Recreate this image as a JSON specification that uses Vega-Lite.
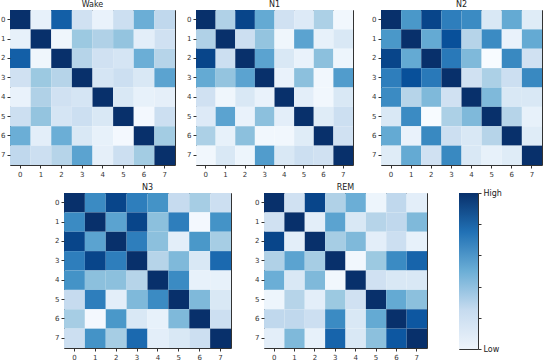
{
"$schema": "https://vega.github.io/schema/vega-lite/v6.json",
"padding": {"left": 0, "top": 0, "right": 0, "bottom": 0},
"background": "white",
"spacing": 5,
"config": {
  "font": "DejaVu Sans",
  "view": {"stroke": "#333", "strokeWidth": 1},
  "axis": {"grid": false, "domain": false, "tickSize": 3, "tickColor": "#333", "labelFontSize": 7, "labelColor": "#333", "labelPadding": 2, "labelAngle": 0},
  "title": {"fontSize": 8, "fontWeight": "normal", "offset": 1, "color": "#222"}
},
"datasets": {
"cells": [
{"stage":"Wake","i":0,"j":0,"v":1},{"stage":"Wake","i":0,"j":1,"v":0.08},{"stage":"Wake","i":0,"j":2,"v":0.82},{"stage":"Wake","i":0,"j":3,"v":0.2},{"stage":"Wake","i":0,"j":4,"v":0.07},{"stage":"Wake","i":0,"j":5,"v":0.22},{"stage":"Wake","i":0,"j":6,"v":0.5},{"stage":"Wake","i":0,"j":7,"v":0.27},
{"stage":"Wake","i":1,"j":0,"v":0.08},{"stage":"Wake","i":1,"j":1,"v":1},{"stage":"Wake","i":1,"j":2,"v":0.04},{"stage":"Wake","i":1,"j":3,"v":0.38},{"stage":"Wake","i":1,"j":4,"v":0.32},{"stage":"Wake","i":1,"j":5,"v":0.4},{"stage":"Wake","i":1,"j":6,"v":0.1},{"stage":"Wake","i":1,"j":7,"v":0.2},
{"stage":"Wake","i":2,"j":0,"v":0.82},{"stage":"Wake","i":2,"j":1,"v":0.04},{"stage":"Wake","i":2,"j":2,"v":1},{"stage":"Wake","i":2,"j":3,"v":0.3},{"stage":"Wake","i":2,"j":4,"v":0.2},{"stage":"Wake","i":2,"j":5,"v":0.17},{"stage":"Wake","i":2,"j":6,"v":0.5},{"stage":"Wake","i":2,"j":7,"v":0.3},
{"stage":"Wake","i":3,"j":0,"v":0.2},{"stage":"Wake","i":3,"j":1,"v":0.38},{"stage":"Wake","i":3,"j":2,"v":0.3},{"stage":"Wake","i":3,"j":3,"v":1},{"stage":"Wake","i":3,"j":4,"v":0.17},{"stage":"Wake","i":3,"j":5,"v":0.22},{"stage":"Wake","i":3,"j":6,"v":0.15},{"stage":"Wake","i":3,"j":7,"v":0.55},
{"stage":"Wake","i":4,"j":0,"v":0.07},{"stage":"Wake","i":4,"j":1,"v":0.32},{"stage":"Wake","i":4,"j":2,"v":0.2},{"stage":"Wake","i":4,"j":3,"v":0.17},{"stage":"Wake","i":4,"j":4,"v":1},{"stage":"Wake","i":4,"j":5,"v":0.15},{"stage":"Wake","i":4,"j":6,"v":0.08},{"stage":"Wake","i":4,"j":7,"v":0.09},
{"stage":"Wake","i":5,"j":0,"v":0.22},{"stage":"Wake","i":5,"j":1,"v":0.4},{"stage":"Wake","i":5,"j":2,"v":0.17},{"stage":"Wake","i":5,"j":3,"v":0.22},{"stage":"Wake","i":5,"j":4,"v":0.15},{"stage":"Wake","i":5,"j":5,"v":1},{"stage":"Wake","i":5,"j":6,"v":0.02},{"stage":"Wake","i":5,"j":7,"v":0.22},
{"stage":"Wake","i":6,"j":0,"v":0.5},{"stage":"Wake","i":6,"j":1,"v":0.1},{"stage":"Wake","i":6,"j":2,"v":0.5},{"stage":"Wake","i":6,"j":3,"v":0.15},{"stage":"Wake","i":6,"j":4,"v":0.08},{"stage":"Wake","i":6,"j":5,"v":0.02},{"stage":"Wake","i":6,"j":6,"v":1},{"stage":"Wake","i":6,"j":7,"v":0.36},
{"stage":"Wake","i":7,"j":0,"v":0.27},{"stage":"Wake","i":7,"j":1,"v":0.22},{"stage":"Wake","i":7,"j":2,"v":0.3},{"stage":"Wake","i":7,"j":3,"v":0.55},{"stage":"Wake","i":7,"j":4,"v":0.09},{"stage":"Wake","i":7,"j":5,"v":0.22},{"stage":"Wake","i":7,"j":6,"v":0.36},{"stage":"Wake","i":7,"j":7,"v":1},

{"stage":"N1","i":0,"j":0,"v":1},{"stage":"N1","i":0,"j":1,"v":0.32},{"stage":"N1","i":0,"j":2,"v":0.92},{"stage":"N1","i":0,"j":3,"v":0.52},{"stage":"N1","i":0,"j":4,"v":0.2},{"stage":"N1","i":0,"j":5,"v":0.13},{"stage":"N1","i":0,"j":6,"v":0.33},{"stage":"N1","i":0,"j":7,"v":0.03},
{"stage":"N1","i":1,"j":0,"v":0.32},{"stage":"N1","i":1,"j":1,"v":1},{"stage":"N1","i":1,"j":2,"v":0.22},{"stage":"N1","i":1,"j":3,"v":0.4},{"stage":"N1","i":1,"j":4,"v":0.04},{"stage":"N1","i":1,"j":5,"v":0.55},{"stage":"N1","i":1,"j":6,"v":0.08},{"stage":"N1","i":1,"j":7,"v":0.15},
{"stage":"N1","i":2,"j":0,"v":0.92},{"stage":"N1","i":2,"j":1,"v":0.22},{"stage":"N1","i":2,"j":2,"v":1},{"stage":"N1","i":2,"j":3,"v":0.55},{"stage":"N1","i":2,"j":4,"v":0.15},{"stage":"N1","i":2,"j":5,"v":0.07},{"stage":"N1","i":2,"j":6,"v":0.42},{"stage":"N1","i":2,"j":7,"v":0.05},
{"stage":"N1","i":3,"j":0,"v":0.52},{"stage":"N1","i":3,"j":1,"v":0.4},{"stage":"N1","i":3,"j":2,"v":0.55},{"stage":"N1","i":3,"j":3,"v":1},{"stage":"N1","i":3,"j":4,"v":0.07},{"stage":"N1","i":3,"j":5,"v":0.42},{"stage":"N1","i":3,"j":6,"v":0.03},{"stage":"N1","i":3,"j":7,"v":0.58},
{"stage":"N1","i":4,"j":0,"v":0.2},{"stage":"N1","i":4,"j":1,"v":0.04},{"stage":"N1","i":4,"j":2,"v":0.15},{"stage":"N1","i":4,"j":3,"v":0.07},{"stage":"N1","i":4,"j":4,"v":1},{"stage":"N1","i":4,"j":5,"v":0.1},{"stage":"N1","i":4,"j":6,"v":0.03},{"stage":"N1","i":4,"j":7,"v":0.15},
{"stage":"N1","i":5,"j":0,"v":0.13},{"stage":"N1","i":5,"j":1,"v":0.55},{"stage":"N1","i":5,"j":2,"v":0.07},{"stage":"N1","i":5,"j":3,"v":0.42},{"stage":"N1","i":5,"j":4,"v":0.1},{"stage":"N1","i":5,"j":5,"v":1},{"stage":"N1","i":5,"j":6,"v":0.12},{"stage":"N1","i":5,"j":7,"v":0.22},
{"stage":"N1","i":6,"j":0,"v":0.33},{"stage":"N1","i":6,"j":1,"v":0.08},{"stage":"N1","i":6,"j":2,"v":0.42},{"stage":"N1","i":6,"j":3,"v":0.03},{"stage":"N1","i":6,"j":4,"v":0.03},{"stage":"N1","i":6,"j":5,"v":0.12},{"stage":"N1","i":6,"j":6,"v":1},{"stage":"N1","i":6,"j":7,"v":0.2},
{"stage":"N1","i":7,"j":0,"v":0.03},{"stage":"N1","i":7,"j":1,"v":0.15},{"stage":"N1","i":7,"j":2,"v":0.05},{"stage":"N1","i":7,"j":3,"v":0.58},{"stage":"N1","i":7,"j":4,"v":0.15},{"stage":"N1","i":7,"j":5,"v":0.22},{"stage":"N1","i":7,"j":6,"v":0.2},{"stage":"N1","i":7,"j":7,"v":1},

{"stage":"N2","i":0,"j":0,"v":1},{"stage":"N2","i":0,"j":1,"v":0.6},{"stage":"N2","i":0,"j":2,"v":0.92},{"stage":"N2","i":0,"j":3,"v":0.7},{"stage":"N2","i":0,"j":4,"v":0.65},{"stage":"N2","i":0,"j":5,"v":0.15},{"stage":"N2","i":0,"j":6,"v":0.52},{"stage":"N2","i":0,"j":7,"v":0.12},
{"stage":"N2","i":1,"j":0,"v":0.6},{"stage":"N2","i":1,"j":1,"v":1},{"stage":"N2","i":1,"j":2,"v":0.52},{"stage":"N2","i":1,"j":3,"v":0.88},{"stage":"N2","i":1,"j":4,"v":0.3},{"stage":"N2","i":1,"j":5,"v":0.65},{"stage":"N2","i":1,"j":6,"v":0.07},{"stage":"N2","i":1,"j":7,"v":0.52},
{"stage":"N2","i":2,"j":0,"v":0.92},{"stage":"N2","i":2,"j":1,"v":0.52},{"stage":"N2","i":2,"j":2,"v":1},{"stage":"N2","i":2,"j":3,"v":0.72},{"stage":"N2","i":2,"j":4,"v":0.45},{"stage":"N2","i":2,"j":5,"v":0},{"stage":"N2","i":2,"j":6,"v":0.66},{"stage":"N2","i":2,"j":7,"v":0.2},
{"stage":"N2","i":3,"j":0,"v":0.7},{"stage":"N2","i":3,"j":1,"v":0.88},{"stage":"N2","i":3,"j":2,"v":0.72},{"stage":"N2","i":3,"j":3,"v":1},{"stage":"N2","i":3,"j":4,"v":0.2},{"stage":"N2","i":3,"j":5,"v":0.33},{"stage":"N2","i":3,"j":6,"v":0.22},{"stage":"N2","i":3,"j":7,"v":0.66},
{"stage":"N2","i":4,"j":0,"v":0.65},{"stage":"N2","i":4,"j":1,"v":0.3},{"stage":"N2","i":4,"j":2,"v":0.45},{"stage":"N2","i":4,"j":3,"v":0.2},{"stage":"N2","i":4,"j":4,"v":1},{"stage":"N2","i":4,"j":5,"v":0.45},{"stage":"N2","i":4,"j":6,"v":0.15},{"stage":"N2","i":4,"j":7,"v":0.15},
{"stage":"N2","i":5,"j":0,"v":0.15},{"stage":"N2","i":5,"j":1,"v":0.65},{"stage":"N2","i":5,"j":2,"v":0},{"stage":"N2","i":5,"j":3,"v":0.33},{"stage":"N2","i":5,"j":4,"v":0.45},{"stage":"N2","i":5,"j":5,"v":1},{"stage":"N2","i":5,"j":6,"v":0.3},{"stage":"N2","i":5,"j":7,"v":0.08},
{"stage":"N2","i":6,"j":0,"v":0.52},{"stage":"N2","i":6,"j":1,"v":0.07},{"stage":"N2","i":6,"j":2,"v":0.66},{"stage":"N2","i":6,"j":3,"v":0.22},{"stage":"N2","i":6,"j":4,"v":0.15},{"stage":"N2","i":6,"j":5,"v":0.3},{"stage":"N2","i":6,"j":6,"v":1},{"stage":"N2","i":6,"j":7,"v":0.12},
{"stage":"N2","i":7,"j":0,"v":0.12},{"stage":"N2","i":7,"j":1,"v":0.52},{"stage":"N2","i":7,"j":2,"v":0.2},{"stage":"N2","i":7,"j":3,"v":0.66},{"stage":"N2","i":7,"j":4,"v":0.15},{"stage":"N2","i":7,"j":5,"v":0.08},{"stage":"N2","i":7,"j":6,"v":0.12},{"stage":"N2","i":7,"j":7,"v":1},

{"stage":"N3","i":0,"j":0,"v":1},{"stage":"N3","i":0,"j":1,"v":0.65},{"stage":"N3","i":0,"j":2,"v":0.92},{"stage":"N3","i":0,"j":3,"v":0.7},{"stage":"N3","i":0,"j":4,"v":0.62},{"stage":"N3","i":0,"j":5,"v":0.25},{"stage":"N3","i":0,"j":6,"v":0.35},{"stage":"N3","i":0,"j":7,"v":0.22},
{"stage":"N3","i":1,"j":0,"v":0.65},{"stage":"N3","i":1,"j":1,"v":1},{"stage":"N3","i":1,"j":2,"v":0.55},{"stage":"N3","i":1,"j":3,"v":0.92},{"stage":"N3","i":1,"j":4,"v":0.42},{"stage":"N3","i":1,"j":5,"v":0.7},{"stage":"N3","i":1,"j":6,"v":0.02},{"stage":"N3","i":1,"j":7,"v":0.62},
{"stage":"N3","i":2,"j":0,"v":0.92},{"stage":"N3","i":2,"j":1,"v":0.55},{"stage":"N3","i":2,"j":2,"v":1},{"stage":"N3","i":2,"j":3,"v":0.7},{"stage":"N3","i":2,"j":4,"v":0.42},{"stage":"N3","i":2,"j":5,"v":0.1},{"stage":"N3","i":2,"j":6,"v":0.6},{"stage":"N3","i":2,"j":7,"v":0.35},
{"stage":"N3","i":3,"j":0,"v":0.7},{"stage":"N3","i":3,"j":1,"v":0.92},{"stage":"N3","i":3,"j":2,"v":0.7},{"stage":"N3","i":3,"j":3,"v":1},{"stage":"N3","i":3,"j":4,"v":0.3},{"stage":"N3","i":3,"j":5,"v":0.45},{"stage":"N3","i":3,"j":6,"v":0.15},{"stage":"N3","i":3,"j":7,"v":0.78},
{"stage":"N3","i":4,"j":0,"v":0.62},{"stage":"N3","i":4,"j":1,"v":0.42},{"stage":"N3","i":4,"j":2,"v":0.42},{"stage":"N3","i":4,"j":3,"v":0.3},{"stage":"N3","i":4,"j":4,"v":1},{"stage":"N3","i":4,"j":5,"v":0.65},{"stage":"N3","i":4,"j":6,"v":0.08},{"stage":"N3","i":4,"j":7,"v":0.08},
{"stage":"N3","i":5,"j":0,"v":0.25},{"stage":"N3","i":5,"j":1,"v":0.7},{"stage":"N3","i":5,"j":2,"v":0.1},{"stage":"N3","i":5,"j":3,"v":0.45},{"stage":"N3","i":5,"j":4,"v":0.65},{"stage":"N3","i":5,"j":5,"v":1},{"stage":"N3","i":5,"j":6,"v":0.45},{"stage":"N3","i":5,"j":7,"v":0.15},
{"stage":"N3","i":6,"j":0,"v":0.35},{"stage":"N3","i":6,"j":1,"v":0.02},{"stage":"N3","i":6,"j":2,"v":0.6},{"stage":"N3","i":6,"j":3,"v":0.15},{"stage":"N3","i":6,"j":4,"v":0.08},{"stage":"N3","i":6,"j":5,"v":0.45},{"stage":"N3","i":6,"j":6,"v":1},{"stage":"N3","i":6,"j":7,"v":0.22},
{"stage":"N3","i":7,"j":0,"v":0.22},{"stage":"N3","i":7,"j":1,"v":0.62},{"stage":"N3","i":7,"j":2,"v":0.35},{"stage":"N3","i":7,"j":3,"v":0.78},{"stage":"N3","i":7,"j":4,"v":0.1},{"stage":"N3","i":7,"j":5,"v":0.15},{"stage":"N3","i":7,"j":6,"v":0.22},{"stage":"N3","i":7,"j":7,"v":1},

{"stage":"REM","i":0,"j":0,"v":1},{"stage":"REM","i":0,"j":1,"v":0.2},{"stage":"REM","i":0,"j":2,"v":0.92},{"stage":"REM","i":0,"j":3,"v":0.32},{"stage":"REM","i":0,"j":4,"v":0.5},{"stage":"REM","i":0,"j":5,"v":0.05},{"stage":"REM","i":0,"j":6,"v":0.27},{"stage":"REM","i":0,"j":7,"v":0.1},
{"stage":"REM","i":1,"j":0,"v":0.2},{"stage":"REM","i":1,"j":1,"v":1},{"stage":"REM","i":1,"j":2,"v":0.1},{"stage":"REM","i":1,"j":3,"v":0.55},{"stage":"REM","i":1,"j":4,"v":0.15},{"stage":"REM","i":1,"j":5,"v":0.3},{"stage":"REM","i":1,"j":6,"v":0.27},{"stage":"REM","i":1,"j":7,"v":0.45},
{"stage":"REM","i":2,"j":0,"v":0.92},{"stage":"REM","i":2,"j":1,"v":0.1},{"stage":"REM","i":2,"j":2,"v":1},{"stage":"REM","i":2,"j":3,"v":0.35},{"stage":"REM","i":2,"j":4,"v":0.45},{"stage":"REM","i":2,"j":5,"v":0.1},{"stage":"REM","i":2,"j":6,"v":0.22},{"stage":"REM","i":2,"j":7,"v":0.08},
{"stage":"REM","i":3,"j":0,"v":0.32},{"stage":"REM","i":3,"j":1,"v":0.55},{"stage":"REM","i":3,"j":2,"v":0.35},{"stage":"REM","i":3,"j":3,"v":1},{"stage":"REM","i":3,"j":4,"v":0.03},{"stage":"REM","i":3,"j":5,"v":0.38},{"stage":"REM","i":3,"j":6,"v":0.65},{"stage":"REM","i":3,"j":7,"v":0.8},
{"stage":"REM","i":4,"j":0,"v":0.5},{"stage":"REM","i":4,"j":1,"v":0.15},{"stage":"REM","i":4,"j":2,"v":0.45},{"stage":"REM","i":4,"j":3,"v":0.03},{"stage":"REM","i":4,"j":4,"v":1},{"stage":"REM","i":4,"j":5,"v":0.2},{"stage":"REM","i":4,"j":6,"v":0.15},{"stage":"REM","i":4,"j":7,"v":0.15},
{"stage":"REM","i":5,"j":0,"v":0.05},{"stage":"REM","i":5,"j":1,"v":0.3},{"stage":"REM","i":5,"j":2,"v":0.1},{"stage":"REM","i":5,"j":3,"v":0.38},{"stage":"REM","i":5,"j":4,"v":0.2},{"stage":"REM","i":5,"j":5,"v":1},{"stage":"REM","i":5,"j":6,"v":0.52},{"stage":"REM","i":5,"j":7,"v":0.42},
{"stage":"REM","i":6,"j":0,"v":0.27},{"stage":"REM","i":6,"j":1,"v":0.27},{"stage":"REM","i":6,"j":2,"v":0.22},{"stage":"REM","i":6,"j":3,"v":0.65},{"stage":"REM","i":6,"j":4,"v":0.15},{"stage":"REM","i":6,"j":5,"v":0.52},{"stage":"REM","i":6,"j":6,"v":1},{"stage":"REM","i":6,"j":7,"v":0.85},
{"stage":"REM","i":7,"j":0,"v":0.1},{"stage":"REM","i":7,"j":1,"v":0.45},{"stage":"REM","i":7,"j":2,"v":0.08},{"stage":"REM","i":7,"j":3,"v":0.8},{"stage":"REM","i":7,"j":4,"v":0.15},{"stage":"REM","i":7,"j":5,"v":0.42},{"stage":"REM","i":7,"j":6,"v":0.85},{"stage":"REM","i":7,"j":7,"v":1}
],
"bar": [{"lo": 0, "hi": 1}],
"none": []
},
"vconcat": [
 {"spacing": 17, "hconcat": [
  {"spacing": 10, "hconcat": [
   {"title": "Wake", "width": 165, "height": 155, "data": {"name": "cells"}, "transform": [{"filter": "datum.stage === 'Wake'"}], "mark": "rect",
    "encoding": {"x": {"field": "j", "type": "ordinal", "title": null}, "y": {"field": "i", "type": "ordinal", "title": null},
     "color": {"field": "v", "type": "quantitative", "legend": null, "scale": {"domain": [0, 1], "interpolate": "rgb", "range": ["#f7fbff","#deebf7","#c6dbef","#9ecae1","#6baed6","#4292c6","#2171b5","#08519c","#08306b"]}}}},
   {"title": "N1", "width": 157, "height": 155, "data": {"name": "cells"}, "transform": [{"filter": "datum.stage === 'N1'"}], "mark": "rect",
    "encoding": {"x": {"field": "j", "type": "ordinal", "title": null}, "y": {"field": "i", "type": "ordinal", "title": null},
     "color": {"field": "v", "type": "quantitative", "legend": null}}}
  ]},
  {"title": "N2", "width": 161, "height": 155, "data": {"name": "cells"}, "transform": [{"filter": "datum.stage === 'N2'"}], "mark": "rect",
   "encoding": {"x": {"field": "j", "type": "ordinal", "title": null}, "y": {"field": "i", "type": "ordinal", "title": null},
    "color": {"field": "v", "type": "quantitative", "legend": null}}}
 ]},
 {"spacing": 24, "hconcat": [
  {"width": 20, "height": 155, "view": {"stroke": null}, "data": {"name": "none"}, "mark": "rect", "encoding": {}},
  {"spacing": 30, "hconcat": [
   {"spacing": 22, "hconcat": [
    {"title": "N3", "width": 167, "height": 155, "data": {"name": "cells"}, "transform": [{"filter": "datum.stage === 'N3'"}], "mark": "rect",
     "encoding": {"x": {"field": "j", "type": "ordinal", "title": null}, "y": {"field": "i", "type": "ordinal", "title": null},
      "color": {"field": "v", "type": "quantitative", "legend": null}}},
    {"title": "REM", "width": 163, "height": 155, "data": {"name": "cells"}, "transform": [{"filter": "datum.stage === 'REM'"}], "mark": "rect",
     "encoding": {"x": {"field": "j", "type": "ordinal", "title": null}, "y": {"field": "i", "type": "ordinal", "title": null},
      "color": {"field": "v", "type": "quantitative", "legend": null}}}
   ]},
   {"width": 19, "height": 156, "data": {"name": "bar"},
    "mark": {"type": "rect", "color": {"gradient": "linear", "x1": 0, "y1": 1, "x2": 0, "y2": 0, "stops": [{"offset": 0, "color": "#eef4fb"}, {"offset": 0.25, "color": "#c6dbef"}, {"offset": 0.5, "color": "#6baed6"}, {"offset": 0.75, "color": "#2171b5"}, {"offset": 1, "color": "#08306b"}]}},
    "encoding": {"y": {"field": "lo", "type": "quantitative", "title": null, "scale": {"domain": [0, 1], "nice": false},
      "axis": {"orient": "right", "values": [0, 0.2, 0.4, 0.6, 0.8, 1], "labelFontSize": 8, "labelColor": "#222", "labelExpr": "datum.value == 1 ? 'High' : (datum.value == 0 ? 'Low' : '')"}},
     "y2": {"field": "hi"}}}
  ]}
 ]}
]
}
